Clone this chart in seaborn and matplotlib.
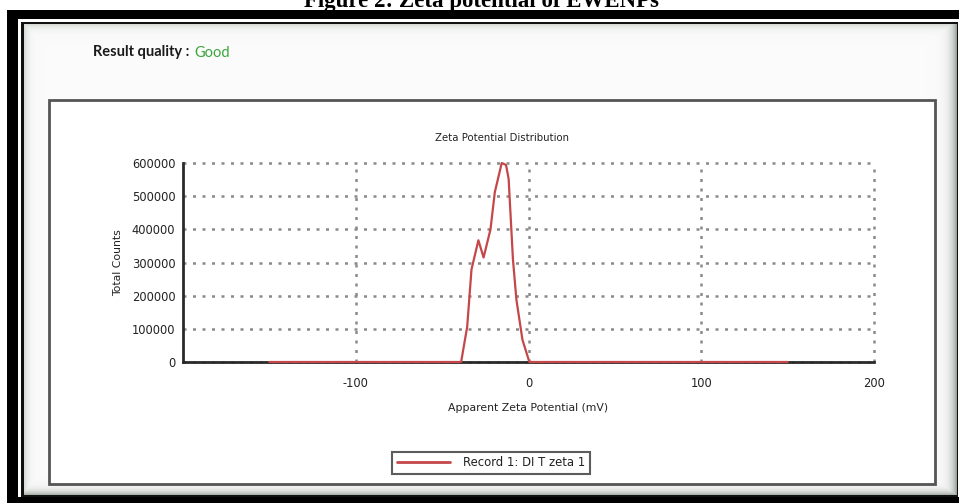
import numpy as np
import pandas as pd
import matplotlib
matplotlib.use("Agg")
import matplotlib.pyplot as plt
from matplotlib.patches import Rectangle
from matplotlib.ticker import FixedLocator, MultipleLocator, FuncFormatter
import seaborn as sns

# Zeta potential distribution (mV vs total counts)
potential_mv = [-150, -39, -35.5, -33, -29, -26, -22, -19.5, -15.5, -13, -11.5, -9, -7, -3.5, 0.5, 150]
total_counts = [0, 0, 106000, 279000, 367000, 315000, 400000, 512000, 600000, 594000, 552000, 309000, 188000, 67000, 0, 0]

x_major = [-100, 0, 100, 200]
x_minor = [-150, -50, 50, 150]
y_major = [0, 100000, 200000, 300000, 400000, 500000, 600000]

series_name = "Record 1: DI T zeta 1"
chart_title = "Zeta Potential Distribution"
x_label = "Apparent Zeta Potential (mV)"
y_label = "Total Counts"
caption = "Figure 2: Zeta potential of EWENPs"
quality_label = "Result quality :"
quality_value = "Good"

sns.set_style("white")
plt.rcParams["font.family"] = ["DejaVu Sans"]
plt.rcParams["axes.unicode_minus"] = False

W, H = 959, 503
fig = plt.figure(figsize=(W / 100, H / 100), dpi=100)
fig.patch.set_facecolor("white")

# Background layer in pixel coordinates for the framed panel
bg = fig.add_axes([0, 0, 1, 1])
bg.set_xlim(0, W)
bg.set_ylim(H, 0)
bg.axis("off")

fig.text(481 / W, 1 - 7.5 / H, caption, ha="center", va="baseline",
         family="Liberation Serif", fontweight="bold", fontsize=16.5, color="black", zorder=0)

bg.add_patch(Rectangle((7, 10), W - 7, H - 10, facecolor="black", edgecolor="none", zorder=1))
bg.add_patch(Rectangle((18, 19), 941, 478, facecolor="white", edgecolor="none", zorder=2))
bg.add_patch(Rectangle((21, 21.5), 937, 475, facecolor="#111111", edgecolor="none", zorder=3))
bg.add_patch(Rectangle((21, 497), 937, 6, facecolor="black", edgecolor="none", zorder=3))

# Panel fill with soft shaded edges
x0, y0, x1, y1 = 24, 24, 957, 495
yy, xx = np.mgrid[0:(y1 - y0), 0:(x1 - x0)]
dl, dt = xx, yy
dr, db = (x1 - x0 - 1) - xx, (y1 - y0 - 1) - yy
shade = np.maximum.reduce([
    0.22 * np.exp(-dl / 4.0),
    0.22 * np.exp(-dt / 4.0),
    0.60 * np.exp(-dr / 5.0),
    0.50 * np.exp(-db / 4.0),
])
base = np.array([0.985, 0.985, 0.985])
tint = np.array([0.35, 0.42, 0.36])
img = base[None, None, :] * (1 - shade[..., None]) + tint[None, None, :] * shade[..., None]
bg.imshow(img, extent=(x0, x1, y1, y0), zorder=4, interpolation="bilinear", aspect="auto")

# Chart box
bg.add_patch(Rectangle((51, 102), 886, 384, facecolor="#d8d8d8", edgecolor="none", zorder=5, alpha=0.6))
bg.add_patch(Rectangle((49, 100), 886, 384, facecolor="white", edgecolor="#555555", linewidth=2, zorder=6))

bg.text(93, 52, quality_label, ha="left", va="center", family="Lato", fontweight="bold",
        fontsize=10.5, color="#1a1a1a", zorder=7)
bg.text(194, 53, quality_value, ha="left", va="center", family="Lato",
        fontsize=10.5, color="#3aa63a", zorder=7)
bg.text(502, 138, chart_title, ha="center", va="center", fontsize=7.3, color="#222222", zorder=7)

# Plot axes
ax_l, ax_r, ax_t, ax_b = 183, 874, 163, 362
ax = fig.add_axes([ax_l / W, 1 - ax_b / H, (ax_r - ax_l) / W, (ax_b - ax_t) / H])
ax.set_facecolor("none")
ax.set_zorder(2)

df = pd.DataFrame({"potential": potential_mv, "counts": total_counts})
sns.lineplot(data=df, x="potential", y="counts", ax=ax, color="#c4474a",
             linewidth=1.6, label=series_name, clip_on=False, zorder=5, sort=False)

ax.set_xlim(-200, 200)
ax.set_ylim(0, 600000)

ax.xaxis.set_major_locator(FixedLocator(x_major))
ax.xaxis.set_minor_locator(FixedLocator(x_minor))
ax.yaxis.set_major_locator(FixedLocator(y_major))
ax.yaxis.set_minor_locator(MultipleLocator(50000))
ax.yaxis.set_major_formatter(FuncFormatter(lambda v, p: f"{int(v)}"))

grid_style = dict(color="#8a8a8a", linestyle=(0, (1.2, 2.6)), linewidth=1.8)
ax.grid(True, which="major", axis="both", **grid_style)
for gl in ax.get_xgridlines() + ax.get_ygridlines():
    gl.set_clip_on(False)

for side in ["top", "right"]:
    ax.spines[side].set_visible(False)
for side in ["left", "bottom"]:
    ax.spines[side].set_color("#2a2a2a")
    ax.spines[side].set_linewidth(2)
    ax.spines[side].set_zorder(3)

ax.tick_params(which="major", direction="inout", length=5, width=2, color="#222222",
               labelsize=8.3, labelcolor="#222222")
ax.tick_params(which="minor", direction="inout", length=4, width=2, color="#222222")
ax.tick_params(axis="x", which="major", pad=8)
ax.tick_params(axis="y", which="major", pad=3)

ax.set_xlabel(x_label, fontsize=7.8, color="#222222", labelpad=10)
ax.set_ylabel(y_label, fontsize=7.8, color="#222222", labelpad=6)

leg = ax.legend(loc="center", bbox_to_anchor=(491 / W, 1 - 463 / H), bbox_transform=fig.transFigure,
                frameon=True, fancybox=False, edgecolor="#333333", fontsize=8.4,
                handlelength=4.6, handletextpad=1.1, borderpad=0.4, borderaxespad=0)
leg.get_frame().set_linewidth(1.5)
for t in leg.get_texts():
    t.set_color("#222222")
for h in leg.get_lines():
    h.set_linewidth(2)

fig.savefig("out.png", dpi=100)
